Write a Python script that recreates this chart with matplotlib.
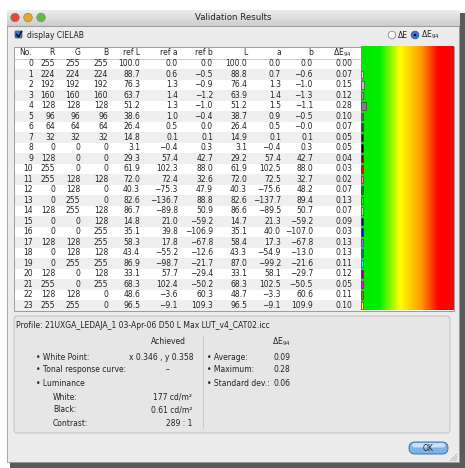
import matplotlib
matplotlib.use("Agg")
import matplotlib.pyplot as plt
import numpy as np
from matplotlib.patches import Rectangle, Circle, FancyBboxPatch
from matplotlib.colors import LinearSegmentedColormap

# --- table data (read from the dialog) ---
patch_no = list(range(24))
R = [255, 224, 192, 160, 128, 96, 64, 32, 0, 128, 255, 255, 0, 0, 128, 0, 0, 128, 0, 0, 128, 255, 128, 255]
G = [255, 224, 192, 160, 128, 96, 64, 32, 0, 0, 0, 128, 128, 255, 255, 0, 0, 128, 128, 255, 0, 0, 128, 255]
B = [255, 224, 192, 160, 128, 96, 64, 32, 0, 0, 0, 128, 0, 0, 128, 128, 255, 255, 128, 255, 128, 255, 0, 0]
ref_L = [100.0, 88.7, 76.3, 63.7, 51.2, 38.6, 26.4, 14.8, 3.1, 29.3, 61.9, 72.0,
         40.3, 82.6, 86.7, 14.8, 35.1, 58.3, 43.4, 86.9, 33.1, 68.3, 48.6, 96.5]
ref_a = [0.0, 0.6, 1.3, 1.4, 1.3, 1.0, 0.5, 0.1, -0.4, 57.4, 102.3, 72.4,
         -75.3, -136.7, -89.8, 21.0, 39.8, 17.8, -55.2, -98.7, 57.7, 102.4, -3.6, -9.1]
ref_b = [0.0, -0.5, -0.9, -1.2, -1.0, -0.4, 0.0, 0.1, 0.3, 42.7, 88.0, 32.6,
         47.9, 88.8, 50.9, -59.2, -106.9, -67.8, -12.6, -21.7, -29.4, -50.2, 60.3, 109.3]
meas_L = [100.0, 88.8, 76.4, 63.9, 51.2, 38.7, 26.4, 14.9, 3.1, 29.2, 61.9, 72.0,
          40.3, 82.6, 86.6, 14.7, 35.1, 58.4, 43.3, 87.0, 33.1, 68.3, 48.7, 96.5]
meas_a = [0.0, 0.7, 1.3, 1.4, 1.5, 0.9, 0.5, 0.1, -0.4, 57.4, 102.5, 72.5,
          -75.6, -137.7, -89.5, 21.3, 40.0, 17.3, -54.9, -99.2, 58.1, 102.5, -3.3, -9.1]
meas_b = [0.0, -0.6, -1.0, -1.3, -1.1, -0.5, -0.0, 0.1, 0.3, 42.7, 88.0, 32.7,
          48.2, 89.4, 50.7, -59.2, -107.0, -67.8, -13.0, -21.6, -29.7, -50.5, 60.6, 109.9]
dE94 = [0.00, 0.07, 0.15, 0.12, 0.28, 0.10, 0.07, 0.05, 0.05, 0.04, 0.03, 0.02,
        0.07, 0.13, 0.07, 0.09, 0.03, 0.13, 0.13, 0.11, 0.12, 0.05, 0.11, 0.10]

headers = ["R", "G", "B", "ref L", "ref a", "ref b", "L", "a", "b", "ΔE$_{94}$"]

profile_name = "Profile: 21UXGA_LEDAJA_1 03-Apr-06 D50 L Max LUT_v4_CAT02.icc"
achieved_labels = ["White Point:", "Tonal response curve:", "Luminance"]
achieved_values = ["x 0.346 , y 0.358", "–", ""]
lum_labels = ["White:", "Black:", "Contrast:"]
lum_values = ["177 cd/m²", "0.61 cd/m²", "289 : 1"]
stat_labels = ["Average:", "Maximum:", "Standard dev.:"]
stat_values = [0.09, 0.28, 0.06]

W, H = 465, 468
fig = plt.figure(figsize=(W / 100, H / 100), dpi=100)
ax = fig.add_axes([0, 0, 1, 1])
ax.set_xlim(0, W)
ax.set_ylim(H, 0)
ax.axis("off")

FS = 5.5
TXT = "#222222"


def fmt(v, d=1):
    return f"{v:.{d}f}".replace("-", "−")


# window + shadow
ax.add_patch(Rectangle((10, 13), W - 10, H - 13, fc="#5a5a5a", ec="none"))
ax.add_patch(Rectangle((7, 10), 452, 452, fc="#ececec", ec="#9a9a9a", lw=0.6))

# title bar
grad = np.linspace(0.93, 0.80, 50).reshape(-1, 1)
ax.imshow(grad, cmap="gray", vmin=0, vmax=1, extent=(7, 459, 26, 10), aspect="auto", zorder=1)
ax.plot([7, 459], [26, 26], color="#8c8c8c", lw=0.6, zorder=2)
for cx, c in zip([15, 28, 41], ["#e2473f", "#e8a52a", "#62bb46"]):
    ax.add_patch(Circle((cx, 17.5), 4.3, fc=c, ec="#7a7a7a", lw=0.4, zorder=3))
ax.text(233, 17.5, "Validation Results", ha="center", va="center", fontsize=6.2, color=TXT, zorder=3)

# checkbox and radios
ax.add_patch(FancyBboxPatch((15, 31), 7, 7, boxstyle="round,pad=0,rounding_size=1",
                            fc="#3b78d4", ec="#2a5aa0", lw=0.5))
ax.plot([16.5, 18.5, 21.5], [34.5, 37, 31.5], color="#111111", lw=1.1)
ax.text(27, 35, "display CIELAB", ha="left", va="center", fontsize=FS, color=TXT)
ax.add_patch(Circle((392, 35), 3.8, fc="white", ec="#888888", lw=0.6))
ax.text(398, 35, "ΔE", ha="left", va="center", fontsize=FS, color=TXT)
ax.add_patch(Circle((415, 35), 3.8, fc="#3b78d4", ec="#2a5aa0", lw=0.6))
ax.add_patch(Circle((415, 35), 1.3, fc="#111111", ec="none"))
ax.text(421, 35, "ΔE$_{94}$", ha="left", va="center", fontsize=FS, color=TXT)

# table
top, row_h = 47.0, 10.5
head_h = 11.5
x0, x1 = 14, 454
ax.add_patch(Rectangle((x0, top), x1 - x0, head_h + 24 * row_h, fc="white", ec="#8e8e8e", lw=0.6))
ax.plot([x0, 361], [top + head_h, top + head_h], color="#b8b8b8", lw=0.5)
for i in patch_no:
    if i % 2 == 1:
        ax.add_patch(Rectangle((x0 + 0.5, top + head_h + i * row_h), 361 - x0 - 0.5, row_h,
                               fc="#efefef", ec="none"))

col_right = [55, 80, 108, 140, 178, 213, 247, 281, 313, 352]
hy = top + head_h / 2
ax.text(19, hy, "No.", ha="left", va="center", fontsize=FS, color=TXT)
for xr, h in zip(col_right, headers):
    ax.text(xr, hy, h, ha="right", va="center", fontsize=FS, color=TXT)

columns = [R, G, B, ref_L, ref_a, ref_b, meas_L, meas_a, meas_b, dE94]
decimals = [None, None, None, 1, 1, 1, 1, 1, 1, 2]
for i in patch_no:
    y = top + head_h + (i + 0.5) * row_h
    ax.text(33, y, str(i), ha="right", va="center", fontsize=FS, color=TXT)
    for xr, col, d in zip(col_right, columns, decimals):
        s = str(col[i]) if d is None else fmt(col[i], d)
        ax.text(xr, y, s, ha="right", va="center", fontsize=FS, color=TXT)

# delta-E colour scale
gx0, gx1 = 361, 453
cmap = LinearSegmentedColormap.from_list(
    "de", [(0, "#00e600"), (0.2, "#00f000"), (0.42, "#ffff00"), (0.65, "#ff9a00"),
           (0.83, "#ff0000"), (1, "#ff0000")])
ax.imshow(np.linspace(0, 1, 256).reshape(1, -1), cmap=cmap, aspect="auto",
          extent=(gx0, gx1, top + head_h + 24 * row_h, top), zorder=1)
for i in patch_no:
    if dE94[i] <= 0:
        continue
    y = top + head_h + i * row_h + 1.5
    w = max(2.0, dE94[i] * 18)
    ax.add_patch(Rectangle((gx0, y), w, row_h - 3, fc=(R[i] / 255, G[i] / 255, B[i] / 255),
                           ec="#333333", lw=0.4, zorder=3))

# lower panel
ax.add_patch(FancyBboxPatch((14, 316), 436, 117, boxstyle="round,pad=0,rounding_size=3",
                            fc="#e6e6e6", ec="#bdbdbd", lw=0.6))
ax.text(16, 326, profile_name, ha="left", va="center", fontsize=FS, color=TXT)
ax.text(168, 342, "Achieved", ha="center", va="center", fontsize=FS, color=TXT)
ax.plot([203, 203], [336, 428], color="#c4c4c4", lw=0.6)
for k, (lab, val) in enumerate(zip(achieved_labels, achieved_values)):
    y = 357 + k * 13
    ax.text(36, y, "• " + lab, ha="left", va="center", fontsize=FS, color=TXT)
    if val == "–":
        ax.text(168, y, val, ha="center", va="center", fontsize=FS, color=TXT)
    elif val:
        ax.text(193, y, val, ha="right", va="center", fontsize=FS, color=TXT)
for k, (lab, val) in enumerate(zip(lum_labels, lum_values)):
    y = 397 + k * 13
    ax.text(53, y, lab, ha="left", va="center", fontsize=FS, color=TXT)
    ax.text(192, y, val, ha="right", va="center", fontsize=FS, color=TXT)
ax.text(281, 342, "ΔE$_{94}$", ha="center", va="center", fontsize=FS, color=TXT)
for k, (lab, val) in enumerate(zip(stat_labels, stat_values)):
    y = 357 + k * 13
    ax.text(207, y, "• " + lab, ha="left", va="center", fontsize=FS, color=TXT)
    ax.text(273, y, f"{val:.2f}", ha="left", va="center", fontsize=FS, color=TXT)

# OK button
ax.add_patch(FancyBboxPatch((409, 442), 39, 12, boxstyle="round,pad=0,rounding_size=6",
                            fc="#7fb2ea", ec="#3f6fae", lw=0.7, zorder=3))
ax.add_patch(FancyBboxPatch((412, 443), 33, 4.5, boxstyle="round,pad=0,rounding_size=2",
                            fc="#c8e0fa", ec="none", zorder=3))
ax.text(428.5, 448.5, "OK", ha="center", va="center", fontsize=FS, color=TXT, zorder=4)

# resize grip
for k in range(3):
    ax.plot([450 + 2.5 * k, 457], [461, 454 + 2.5 * k], color="#9a9a9a", lw=0.4)

fig.savefig("out.png", dpi=100)
